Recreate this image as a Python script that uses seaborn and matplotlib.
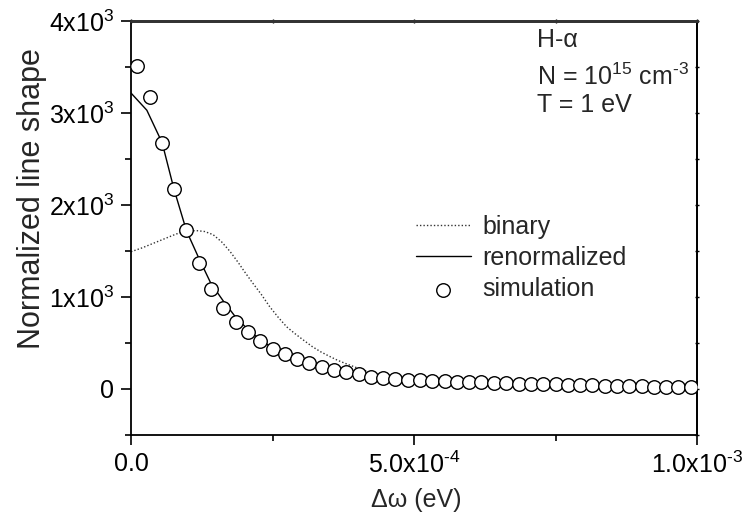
import matplotlib
matplotlib.use("Agg")
import matplotlib.pyplot as plt
import seaborn as sns
import pandas as pd
from matplotlib.ticker import FixedLocator, FixedFormatter, NullFormatter

# Data (x in units of 1e-6 eV)
sim_x = [11, 33, 55, 76, 98, 120, 141, 163, 185, 207, 228, 250, 272, 293, 315, 337,
         359, 380, 402, 424, 446, 467, 489, 511, 532, 554, 576, 598, 619, 641, 663,
         685, 706, 728, 750, 772, 793, 815, 837, 858, 880, 902, 924, 945, 967, 989]
sim_y = [3511, 3177, 2677, 2171, 1728, 1366, 1087, 884, 732, 616, 518, 438, 377, 323,
         279, 242, 206, 181, 160, 134, 120, 109, 100, 95, 90, 85, 80, 75, 71, 67, 63,
         59, 55, 52, 49, 46, 43, 40, 37, 34, 32, 29, 27, 25, 23, 21]

renorm_x = [0, 28, 55, 76, 98, 120, 141, 163, 185, 207, 228, 250, 272, 293, 315, 337,
            359, 380, 402, 424, 446, 467, 489, 550, 600, 700, 800, 900, 1000]
renorm_y = [3217, 3030, 2677, 2171, 1720, 1420, 1150, 957, 780, 645, 535, 450, 385, 330,
            285, 245, 210, 185, 163, 140, 125, 112, 102, 85, 70, 50, 37, 27, 20]

binary_x = [0, 20, 40, 60, 80, 100, 115, 130, 145, 160, 175, 190, 200, 215, 230, 245,
            260, 275, 290, 305, 320, 335, 350, 365, 380, 395, 410, 430, 445, 465, 495,
            550, 600, 700, 800, 900, 1000]
binary_y = [1492, 1535, 1585, 1635, 1685, 1715, 1722, 1712, 1678, 1600, 1495, 1370, 1280,
            1152, 1030, 895, 780, 676, 600, 530, 462, 405, 357, 312, 275, 240, 205, 170,
            145, 118, 100, 80, 65, 45, 33, 25, 18]

x_ticks = [0.0, 5.0e-4, 1.0e-3]
x_labels = ["0.0", r"5.0x10$^{\text{-}4}$", r"1.0x10$^{\text{-}3}$"]
x_minor = [2.5e-4, 7.5e-4]
y_ticks = [0, 1000, 2000, 3000, 4000]
y_labels = ["0", r"1x10$^3$", r"2x10$^3$", r"3x10$^3$", r"4x10$^3$"]
y_minor = [-500, 500, 1500, 2500, 3500]

df_sim = pd.DataFrame({"x": [v * 1e-6 for v in sim_x], "y": sim_y})
df_ren = pd.DataFrame({"x": [v * 1e-6 for v in renorm_x], "y": renorm_y})
df_bin = pd.DataFrame({"x": [v * 1e-6 for v in binary_x], "y": binary_y})

sns.set_theme(style="ticks")
plt.rcParams["font.family"] = ["Liberation Sans", "DejaVu Sans"]
plt.rcParams["mathtext.fontset"] = "custom"
plt.rcParams["mathtext.rm"] = "Liberation Sans"
plt.rcParams["mathtext.it"] = "Liberation Sans:italic"
plt.rcParams["mathtext.bf"] = "Liberation Sans:bold"

FS = 18

fig = plt.figure(figsize=(7.45, 5.14), dpi=100)
ax = fig.add_axes([131 / 745, 1 - 435 / 514, 566 / 745, 414 / 514])

sns.lineplot(data=df_bin, x="x", y="y", ax=ax, color="#333333", linestyle=(0, (1, 1.5)),
             linewidth=1.0, label="binary", estimator=None, sort=False)
sns.lineplot(data=df_ren, x="x", y="y", ax=ax, color="black", linewidth=1.0,
             label="renormalized", estimator=None, sort=False)
sns.scatterplot(data=df_sim, x="x", y="y", ax=ax, s=95, facecolor="white",
                edgecolor="black", linewidth=1.0, label="simulation", zorder=3)

ax.set_xlim(0, 1.0e-3)
ax.set_ylim(-500, 4000)

ax.xaxis.set_major_locator(FixedLocator(x_ticks))
ax.xaxis.set_major_formatter(FixedFormatter(x_labels))
ax.xaxis.set_minor_locator(FixedLocator(x_minor))
ax.yaxis.set_major_locator(FixedLocator(y_ticks))
ax.yaxis.set_major_formatter(FixedFormatter(y_labels))
ax.yaxis.set_minor_locator(FixedLocator(y_minor))

ax.tick_params(axis="both", which="major", direction="out", length=7, width=1.2,
               labelsize=FS, color="black", labelcolor="black", pad=5)
ax.tick_params(axis="both", which="minor", direction="out", length=4, width=1.2,
               color="black")
ax.tick_params(which="both", right=False, top=False)

# tiny ticks on the right and top axes
sec_y = ax.secondary_yaxis("right")
sec_y.yaxis.set_major_locator(FixedLocator(y_ticks + y_minor))
sec_y.yaxis.set_major_formatter(NullFormatter())
sec_y.tick_params(direction="inout", length=3, width=1.0, color="black")
sec_x = ax.secondary_xaxis("top")
sec_x.xaxis.set_major_locator(FixedLocator(x_ticks + x_minor))
sec_x.xaxis.set_major_formatter(NullFormatter())
sec_x.tick_params(direction="inout", length=3, width=1.0, color="black")
sec_y.spines["right"].set_linewidth(1.3)
sec_y.spines["right"].set_color("black")
sec_x.spines["top"].set_linewidth(2.0)
sec_x.spines["top"].set_color("#333333")

for side in ["left", "bottom", "top", "right"]:
    ax.spines[side].set_visible(True)
    ax.spines[side].set_linewidth(1.3)
    ax.spines[side].set_color("black")
ax.spines["top"].set_color("#333333")
ax.spines["top"].set_linewidth(2.0)

ax.set_xlabel("Δω (eV)", fontsize=18)
ax.set_ylabel("Normalized line shape", fontsize=22)
ax.xaxis.set_label_coords(0.5035, -0.128)
ax.yaxis.set_label_coords(-0.148, 0.572)

ax.legend(loc="upper left", bbox_to_anchor=(0.5035, 0.531), frameon=False,
          fontsize=FS, handlelength=2.2, handletextpad=0.45, labelspacing=0.28,
          borderpad=0, borderaxespad=0)

ax.text(0.717, 0.954, "H-α", transform=ax.transAxes, fontsize=FS, va="center", ha="left")
ax.text(0.717, 0.866, r"N = 10$^{15}$ cm$^{\text{-}3}$", transform=ax.transAxes,
        fontsize=FS, va="center", ha="left")
ax.text(0.717, 0.796, "T = 1 eV", transform=ax.transAxes, fontsize=FS, va="center",
        ha="left")

fig.savefig("out.png", dpi=100)
